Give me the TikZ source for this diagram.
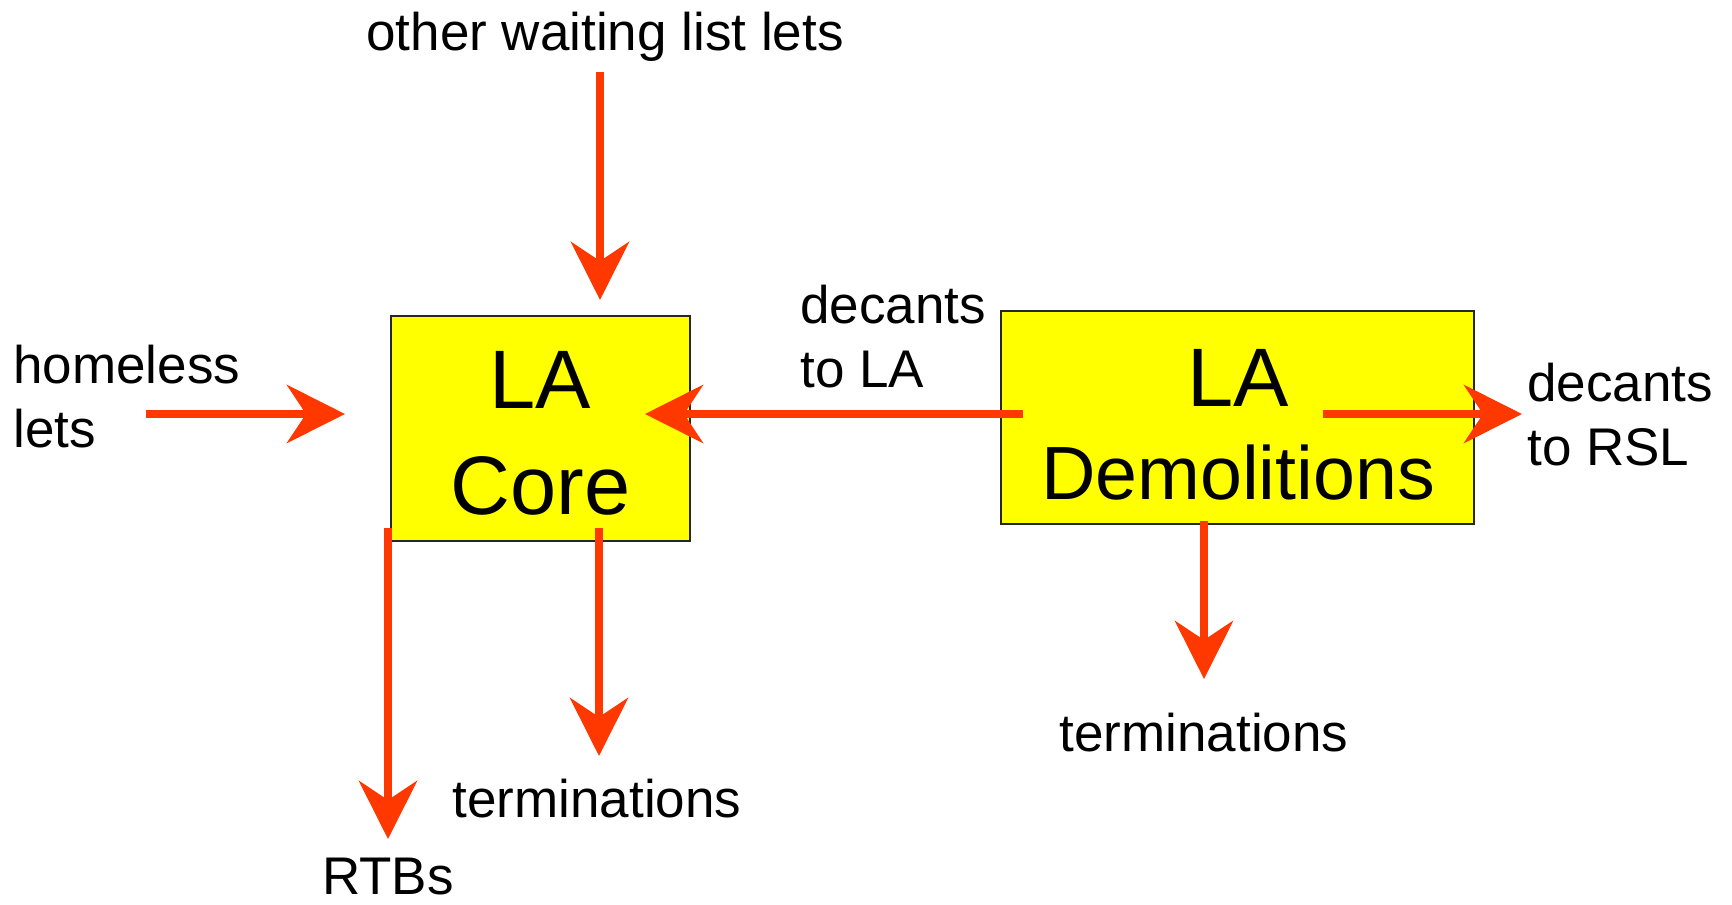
\documentclass[tikz,border=0pt]{standalone}
\usepackage{fontspec}
\setmainfont{Liberation Sans}
\usetikzlibrary{arrows.meta}
\definecolor{flow}{RGB}{255,56,0}
\definecolor{unitfill}{RGB}{255,255,0}

\begin{document}
\begin{tikzpicture}[x=0.5pt,y=-0.5pt,
  unitbox/.style={draw=black!85, line width=1pt, fill=unitfill, inner sep=0pt},
  unitname/.style={font=\fontsize{41.5}{53}\selectfont, inner sep=0pt, align=center, anchor=base},
  flowtext/.style={font=\fontsize{26.5}{32}\selectfont, inner sep=0pt},
  flowarrow/.style={draw=flow, line width=4pt,
    -{Stealth[length=29pt,width=29pt,inset=9.5pt]}},
]
\useasboundingbox (0,0) rectangle (1732,904);

% housing units
\node[unitbox, minimum width=149.5pt, minimum height=112.5pt] (core) at (540.5,428.5) {};
\node[unitbox, minimum width=236.5pt, minimum height=106.5pt] (demo) at (1237.5,417.5) {};
% multi-line nodes: the base anchor sits on the last line
\node[unitname] (coreName) at (540.5,514) {LA\\Core};
\node[unitname] (demoLA) at (1238,406.5) {LA};
\node[unitname, font=\fontsize{37.7}{46}\selectfont] (demoName) at (1238,499) {Demolitions};

% flow labels
\node[flowtext, anchor=base] (waiting) at (605,51) {other waiting list lets};
\node[flowtext, anchor=base west, align=left] (homeless) at (13,447) {homeless\\lets};
\node[flowtext, anchor=base west, align=left] (decLA) at (800,387) {decants\\to LA};
\node[flowtext, anchor=base west, align=left] (decRSL) at (1527,465) {decants\\to RSL};
\node[flowtext, anchor=base] (termCore) at (597,817) {terminations};
\node[flowtext, anchor=base] (termDemo) at (1204,751) {terminations};
\node[flowtext, anchor=base, text depth=0pt] (rtb) at (388,894) {RTBs};

% connector end points
\coordinate (waitFrom) at (600,72);
\coordinate (waitTo)   at (600,300);
\coordinate (homeFrom) at (146,414);
\coordinate (homeTo)   at (345,414);
\coordinate (decLAFrom) at (1023,414);
\coordinate (decLATo)   at (645,414);
\coordinate (decRSLFrom) at (1323,414);
\coordinate (decRSLTo)   at (1522,414);
\coordinate (termDemoFrom) at (1204,521);
\coordinate (termDemoTo)   at (1204,679);
\coordinate (termCoreFrom) at (599,528);
\coordinate (termCoreTo)   at (599,756);
\coordinate (rtbFrom) at (388,528);
\coordinate (rtbTo)   at (388,839);

% flows
\draw[flowarrow] (waitFrom) -- (waitTo);
\draw[flowarrow] (homeFrom) -- (homeTo);
\draw[flowarrow] (decLAFrom) -- (decLATo);
\draw[flowarrow] (decRSLFrom) -- (decRSLTo);
\draw[flowarrow] (termDemoFrom) -- (termDemoTo);
\draw[flowarrow] (termCoreFrom) -- (termCoreTo);
\draw[flowarrow] (rtbFrom) -- (rtbTo);
\end{tikzpicture}
\end{document}
